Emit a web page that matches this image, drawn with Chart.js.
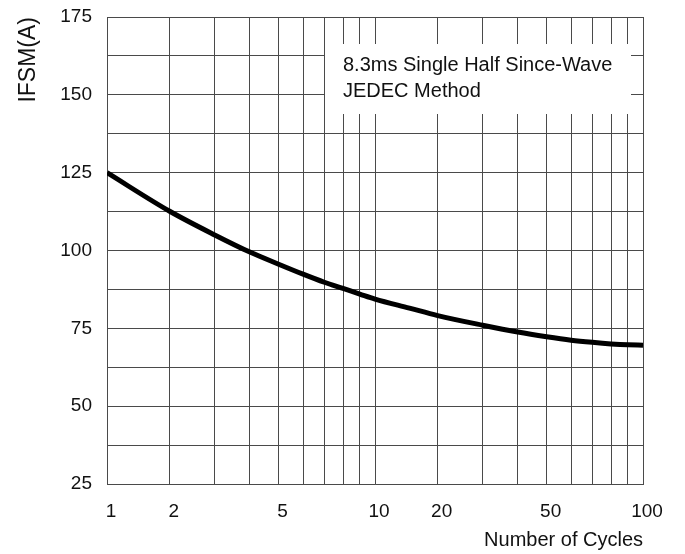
<!DOCTYPE html>
<html lang="en">
<head>
<meta charset="UTF-8">
<title>IFSM vs Number of Cycles</title>
<script src="https://cdn.jsdelivr.net/npm/chart.js"></script>
<style>
    html, body { margin: 0; padding: 0; background: #ffffff; }
</style>
</head>
<body>
<canvas id="surgeChart" width="685" height="554"></canvas>
<script>
// data
const cycles = [1, 2, 3, 4, 5, 6, 7, 8, 9, 10, 15, 20, 30, 40, 50, 60, 70, 80, 90, 100];
const ifsm   = [125, 112.6, 105.0, 99.5, 95.6, 92.4, 89.8, 87.8, 86.0, 84.4, 81.5, 79.1, 76.0, 73.8, 72.3, 71.2, 70.5, 70.0, 69.7, 69.6];

// grid lines of the x axis and which of them get a label
const gridCycles = [1, 2, 3, 4, 5, 6, 7, 8, 9, 10, 20, 30, 40, 50, 60, 70, 80, 90, 100];
const labelledCycles = [1, 2, 5, 10, 20, 50, 100];

const noteLines = ['8.3ms Single Half Since-Wave', 'JEDEC Method'];

const FONT = '"Liberation Sans", Arial, sans-serif';
const GRID = '#4a4a4a';
const INK = '#111111';

// the printed graph paper is a squashed log grid: each decade is warped the same way
function cyclePos(n) {
    let d = Math.floor(Math.log10(n) + 1e-9);
    if (d > 1) d = 2;
    const m = n / Math.pow(10, d);
    const k = 1.1;
    return d + Math.log10((m + k) / (1 + k)) / Math.log10((10 + k) / (1 + k));
}

const points = cycles.map((c, i) => ({ x: cyclePos(c), y: ifsm[i] }));

// white label box over the grid
const noteBox = {
    id: 'noteBox',
    beforeDatasetsDraw(chart) {
        const ctx = chart.ctx;
        ctx.save();
        ctx.fillStyle = '#ffffff';
        ctx.fillRect(325, 44, 306, 70);
        ctx.fillStyle = INK;
        ctx.font = '20px ' + FONT;
        ctx.textBaseline = 'alphabetic';
        ctx.textAlign = 'left';
        ctx.fillText(noteLines[0], 343, 71);
        ctx.fillText(noteLines[1], 343, 97);
        ctx.restore();
    }
};

new Chart(document.getElementById('surgeChart'), {
    type: 'line',
    data: {
        datasets: [{
            data: points,
            borderColor: '#000000',
            borderWidth: 5,
            pointRadius: 0,
            fill: false,
            cubicInterpolationMode: 'monotone'
        }]
    },
    options: {
        responsive: false,
        animation: false,
        layout: { padding: { left: 0, right: 42, top: 17, bottom: 0 } },
        plugins: {
            legend: { display: false },
            tooltip: { enabled: false }
        },
        scales: {
            x: {
                type: 'linear',
                min: 0,
                max: 2,
                afterBuildTicks(scale) {
                    scale.ticks = gridCycles.map(c => ({ value: cyclePos(c) }));
                },
                afterFit(scale) {
                    scale.height = 70;
                    scale.paddingLeft = 0;
                    scale.paddingRight = 0;
                },
                grid: { color: GRID, lineWidth: 1, drawTicks: false },
                border: { color: GRID, width: 1 },
                ticks: {
                    autoSkip: false,
                    maxRotation: 0,
                    padding: 16,
                    labelOffset: 4,
                    color: INK,
                    font: { family: FONT, size: 19 },
                    callback: (v, i) => labelledCycles.includes(gridCycles[i]) ? String(gridCycles[i]) : ''
                },
                title: {
                    display: true,
                    text: 'Number of Cycles',
                    align: 'end',
                    color: INK,
                    font: { family: FONT, size: 20 },
                    padding: { top: 0, bottom: 2 }
                }
            },
            y: {
                min: 25,
                max: 175,
                afterFit(scale) {
                    scale.width = 107;
                    scale.paddingTop = 0;
                    scale.paddingBottom = 0;
                },
                grid: { color: GRID, lineWidth: 1, drawTicks: false },
                border: { color: GRID, width: 1 },
                ticks: {
                    stepSize: 12.5,
                    padding: 15,
                    color: INK,
                    font: { family: FONT, size: 19 },
                    callback: v => (v % 25 === 0 ? String(v) : '')
                },
                title: {
                    display: true,
                    text: 'IFSM(A)',
                    align: 'end',
                    color: INK,
                    font: { family: FONT, size: 23 },
                    padding: { top: 15, bottom: 0 }
                }
            }
        }
    },
    plugins: [noteBox]
});
</script>
</body>
</html>
